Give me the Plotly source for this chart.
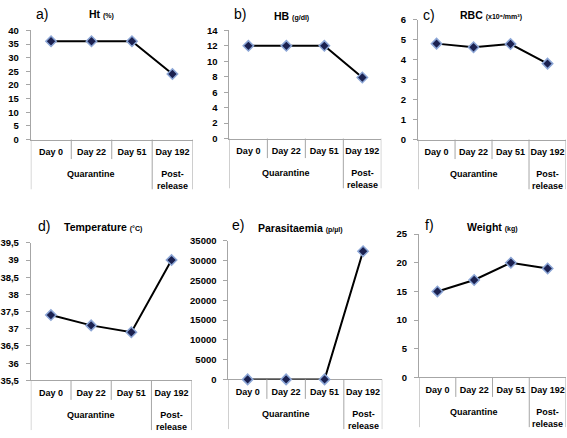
import plotly.graph_objects as go

W, H = 567, 438

# ---- data ----
days = ["Day 0", "Day 22", "Day 51", "Day 192"]
phases = ["Quarantine", "Quarantine", "Quarantine", "Post-<br>release"]

ht = [36, 36, 36, 24]
hb = [12, 12, 12, 7.9]
rbc = [4.8, 4.62, 4.78, 3.8]
temperature = [37.4, 37.1, 36.9, 39.0]
parasitaemia = [0, 0, 0, 32400]
weight = [15, 17, 20, 19]

letters = ["a)", "b)", "c)", "d)", "e)", "f)"]
titles = ["Ht", "HB", "RBC", "Temperature", "Parasitaemia", "Weight"]
units = ["(%)", "(g/dl)", "(x10⁶/mm³)", "(°C)", "(p/µl)", "(kg)"]
series = [ht, hb, rbc, temperature, parasitaemia, weight]
yranges = [[0, 40], [0, 14], [0, 6], [35.5, 39.5], [0, 35000], [0, 25]]
dticks = [5, 2, 1, 0.5, 5000, 5]

# ---- layout (pixels) ----
boxes = [(27, 190, 25, 137), (227, 380, 25, 136), (417, 566, 14, 137),
         (27, 189, 243, 384), (226, 381, 241, 383), (418, 566, 234, 381)]
letter_pos = [(30, 8), (230, 8), (420, 9), (32, 226), (228, 225), (422, 225)]
title_pos = [(98, 8), (290, 10), (490, 9), (100, 227), (299, 228), (492, 227)]

FONT = "Liberation Sans, Arial, sans-serif"
GRAY = "#a6a6a6"


def px(x):
    return x / W


def py(y):
    return 1 - y / H


fig = go.Figure()
shapes = []
annotations = []

for i, (vals, box) in enumerate(zip(series, boxes)):
    n = i + 1
    xs = "x" if n == 1 else f"x{n}"
    ys = "y" if n == 1 else f"y{n}"
    xl = "xaxis" if n == 1 else f"xaxis{n}"
    yl = "yaxis" if n == 1 else f"yaxis{n}"
    x0, x1, y0, y1 = box

    fig.add_trace(go.Scatter(
        x=days, y=vals, xaxis=xs, yaxis=ys, mode="lines+markers",
        line=dict(color="black", width=2),
        marker=dict(symbol="diamond", size=8, color="#1b2150",
                    line=dict(color="#8ca6d6", width=1.5)),
        cliponaxis=False, showlegend=False, hoverinfo="skip"))

    fig.layout[xl] = dict(
        domain=[px(x0), px(x1)], anchor=ys, type="category",
        range=[-0.5, len(days) - 0.5], showline=True, linecolor=GRAY,
        linewidth=1, ticks="", showgrid=False, zeroline=False,
        layer="below traces", ticklabelstandoff=4,
        tickfont=dict(family=FONT, size=9, color="black", weight="bold"))
    yax = dict(
        domain=[py(y1), py(y0)], anchor=xs, range=yranges[i],
        dtick=dticks[i], tick0=yranges[i][0], showline=True, linecolor=GRAY,
        linewidth=1, ticks="outside", ticklen=4, tickcolor=GRAY,
        showgrid=False, zeroline=False, ticklabelstandoff=5,
        layer="below traces",
        tickfont=dict(family=FONT, size=9.5, color="black", weight="bold"))
    if yranges[i][1] >= 10000:
        yax["tickformat"] = "d"
    fig.layout[yl] = yax

    # category table lines
    for j in range(len(days) + 1):
        long = j == 0 or j == len(days) or phases[j] != phases[j - 1]
        depth = 51 if long else 20
        shapes.append(dict(type="line", xref=xs, yref="paper",
                           x0=j - 0.5, x1=j - 0.5, y0=py(y1), y1=py(y1 + depth),
                           line=dict(color=GRAY, width=1)))

    # group labels
    groups = []
    for j, ph in enumerate(phases):
        if groups and groups[-1][0] == ph:
            groups[-1][1].append(j)
        else:
            groups.append([ph, [j]])
    for ph, idx in groups:
        annotations.append(dict(
            xref=xs, yref="paper", x=sum(idx) / len(idx), y=py(y1 + 28),
            text=ph, showarrow=False, xanchor="center", yanchor="top",
            font=dict(family=FONT, size=9, color="black", weight="bold")))

    # panel letter and title
    lx, ly = letter_pos[i]
    annotations.append(dict(
        xref="paper", yref="paper", x=px(lx), y=py(ly), text=letters[i],
        showarrow=False, xanchor="left", yanchor="middle",
        font=dict(family=FONT, size=14, color="black")))
    tx, ty = title_pos[i]
    annotations.append(dict(
        xref="paper", yref="paper", x=px(tx), y=py(ty),
        text=f"<b>{titles[i]}</b> <b><span style='font-size:7px'>{units[i]}</span></b>",
        showarrow=False, xanchor="center", yanchor="middle",
        font=dict(family=FONT, size=10.5, color="black")))

fig.update_layout(
    width=W, height=H, margin=dict(l=0, r=0, t=0, b=0),
    paper_bgcolor="white", plot_bgcolor="white",
    separators=", ", shapes=shapes, annotations=annotations,
    showlegend=False)

fig.write_html("out.html",
               config={"displayModeBar": False, "staticPlot": True},
               post_script="document.body.style.margin='0';"
                           "document.body.style.overflow='hidden';")
